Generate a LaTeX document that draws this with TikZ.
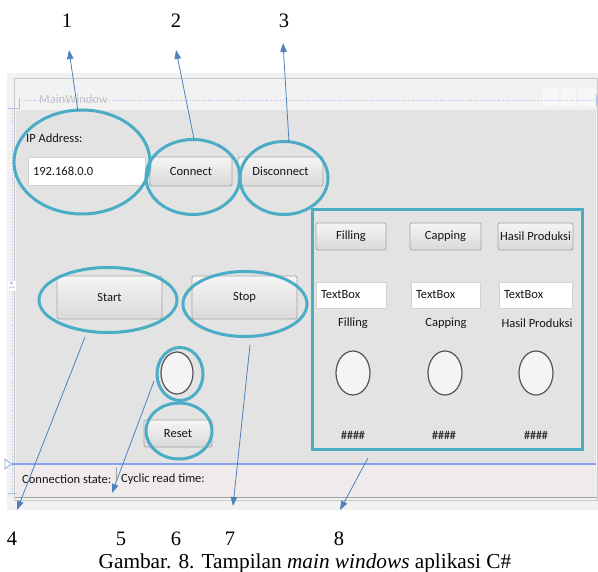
\documentclass[tikz,border=0pt]{standalone}
\usepackage{fontspec}
\setmainfont{Liberation Serif}
\newfontfamily\ui{Carlito}
\usetikzlibrary{shapes.geometric,arrows.meta}
\definecolor{teal1}{HTML}{4BACC6}
\definecolor{arrblue}{HTML}{4F81BD}
\definecolor{outerbg}{HTML}{F1F1F1}
\definecolor{winframe}{HTML}{C8C8C8}
\definecolor{titlebg}{HTML}{F2F2F2}
\definecolor{contentbg}{HTML}{E3E3E3}
\definecolor{statusbg}{HTML}{EFEBEA}
\definecolor{dotblue}{HTML}{A9BEF2}
\definecolor{lineblue}{HTML}{85A4EE}
\definecolor{uitxt}{HTML}{161616}
\definecolor{btnborder}{HTML}{A5A5A5}
\definecolor{btntop}{HTML}{F5F5F5}
\definecolor{btnbot}{HTML}{D9D9D9}
\definecolor{tbborder}{HTML}{D2D2D2}
\definecolor{ledborder}{HTML}{555555}
\definecolor{ledfill}{HTML}{F4F4F4}
\definecolor{titletxt}{HTML}{C2C2C2}
\begin{document}
\begin{tikzpicture}[x=1pt,y=-1pt,
  uitext/.style={font=\ui\fontsize{12.5}{14}\selectfont, text=uitxt, inner sep=0},
  btn/.style={uitext, draw=btnborder, rounded corners=2pt, top color=btntop, bottom color=btnbot, line width=0.8pt},
  tbox/.style={uitext, draw=tbborder, fill=white, line width=0.6pt, align=left, inner xsep=5pt},
  ring/.style={ellipse, draw=teal1, line width=3pt, inner sep=0},
  led/.style={ellipse, draw=ledborder, fill=ledfill, line width=1.2pt, inner sep=0, minimum width=34pt, minimum height=44pt},
  arr/.style={draw=arrblue, line width=0.8pt, -{Triangle[length=9pt,width=6.5pt]}},
  num/.style={font=\fontsize{20.5}{24}\selectfont, inner sep=0},
  hashes/.style={font=\ui\bfseries\fontsize{12}{14}\selectfont, text=uitxt!85, inner sep=0}]
\useasboundingbox (0,0) rectangle (598,572);
\fill[white] (0,0) rectangle (598,572);
% window backgrounds
\fill[outerbg] (7,73) rectangle (598,510);
\draw[winframe, fill=titlebg, line width=0.8pt] (14,78) rectangle (597,500);
\fill[contentbg] (16,110) rectangle (596,464);
\fill[statusbg] (16,464) rectangle (596,497);
\draw[winframe!80!black, line width=0.8pt] (15,497) -- (597,497);
% title bar buttons (faint)
\fill[white, opacity=0.4] (543,88) rectangle (558,107);
\fill[white, opacity=0.4] (561,88) rectangle (576,107);
\fill[white, opacity=0.4] (579,88) rectangle (595,107);
\node[font=\ui\fontsize{12.5}{14}\selectfont, text=titletxt, inner sep=0, anchor=west] (title) at (39,99) {MainWindow};
% designer guide lines
\draw[dotblue, dotted, line width=0.9pt] (19,100) -- (596,100);
\draw[dotblue, line width=0.9pt] (8,108) -- (19,108) -- (19,98);
\draw[dotblue, line width=0.9pt] (596,95) -- (596,106);
\draw[dotblue, dotted, line width=0.9pt] (12,108) -- (12,493);
\draw[dotblue, line width=0.9pt] (8,493) -- (17,493);
\node[fill=white, inner sep=1pt, text=dotblue, rotate=-90, font=\ui\fontsize{8}{9}\selectfont] (mark) at (12,286) {\textbullet 1};
\draw[lineblue, line width=1.2pt] (12,464) -- (596,464);
\draw[lineblue, line width=0.8pt, fill=white] (5,459) -- (11,464) -- (5,469) -- cycle;
% left controls
\node[uitext, anchor=west] (iplabel) at (26,138) {IP Address:};
\node[tbox, text width=107pt, minimum height=28pt] (ipbox) at (86.5,171) {192.168.0.0};
\node[btn, minimum width=82pt, minimum height=29pt] (connect) at (191,171.5) {Connect};
\node[btn, minimum width=85pt, minimum height=29pt] (disconnect) at (280.5,171.5) {Disconnect};
\node[btn, minimum width=105pt, minimum height=43pt] (start) at (109.5,297.5) {Start};
\node[btn, minimum width=105pt, minimum height=43pt] (stop) at (244.5,297.5) {Stop};
\node[led, minimum width=32pt, minimum height=42pt] (led0) at (177,373) {};
\node[btn, minimum width=68pt, minimum height=27pt] (reset) at (178,433.5) {Reset};
% right panel
\node[btn, minimum width=70pt, minimum height=27pt] (bfill) at (351,236.5) {Filling};
\node[btn, minimum width=71pt, minimum height=27pt] (bcap) at (445.5,236.5) {Capping};
\node[btn, minimum width=75pt, minimum height=27pt] (bhasil) at (535.5,236.5) {Hasil Produksi};
\node[tbox, text width=60pt, minimum height=26pt] (tb1) at (351,295) {TextBox};
\node[tbox, text width=59pt, minimum height=26pt] (tb2) at (445.5,295) {TextBox};
\node[tbox, text width=63pt, minimum height=26pt] (tb3) at (535.5,295) {TextBox};
\node[uitext] (lfill) at (353,323) {Filling};
\node[uitext] (lcap) at (446,323) {Capping};
\node[uitext] (lhasil) at (537,323) {Hasil Produksi};
\node[led] (led1) at (353,373) {};
\node[led] (led2) at (445,373) {};
\node[led] (led3) at (536,373) {};
\node[hashes] (h1) at (353,435) {\#\#\#\#};
\node[hashes] (h2) at (444,435) {\#\#\#\#};
\node[hashes] (h3) at (536,435) {\#\#\#\#};
% status bar
\node[uitext, anchor=west] (connstate) at (22,479) {Connection state:};
\draw[btnborder, line width=0.8pt] (116,467) -- (116,482);
\node[uitext, anchor=west] (cyclic) at (121,479) {Cyclic read time:};
% highlight rings
\node[ring, minimum width=136pt, minimum height=104pt] (e1) at (82,162) {};
\node[ring, minimum width=94pt, minimum height=75pt] (e2) at (193,177) {};
\node[ring, minimum width=88pt, minimum height=73pt] (e3) at (284,178) {};
\node[ring, minimum width=138pt, minimum height=65pt] (e4) at (108,300) {};
\node[ring, minimum width=124pt, minimum height=65pt] (e7) at (245,304) {};
\node[ring, minimum width=46pt, minimum height=53pt] (e5) at (180,374) {};
\node[ring, minimum width=66pt, minimum height=56pt] (e6) at (179,431) {};
\draw[teal1, line width=3pt] (312,210) rectangle (582,450);
% number labels
\node[num] (l1) at (67,21) {1};
\node[num] (l2) at (176,21) {2};
\node[num] (l3) at (284,21) {3};
\node[num] (l4) at (12,539) {4};
\node[num] (l5) at (121,539) {5};
\node[num] (l6) at (176,539) {6};
\node[num] (l7) at (230,539) {7};
\node[num] (l8) at (339,539) {8};
% arrows
\coordinate (s1) at (78,112);  \coordinate (t1) at (69,50);
\coordinate (s2) at (194,139); \coordinate (t2) at (176,50);
\coordinate (s3) at (289,142); \coordinate (t3) at (283,43);
\coordinate (s4) at (85,337);  \coordinate (t4) at (17,510);
\coordinate (s5) at (154,381); \coordinate (t5) at (112,493);
\coordinate (s7) at (250,345); \coordinate (t7) at (233,506);
\coordinate (s8) at (368,458); \coordinate (t8) at (340,510);
\draw[arr] (s1) -- (t1);
\draw[arr] (s2) -- (t2);
\draw[arr] (s3) -- (t3);
\draw[arr] (s4) -- (t4);
\draw[arr] (s5) -- (t5);
\draw[arr] (s7) -- (t7);
\draw[arr] (s8) -- (t8);
% caption
\node[font=\fontsize{21.3}{24}\selectfont, inner sep=0] (caption) at (305,563) {Gambar. 8. Tampilan \textit{main windows} aplikasi C\#};
\end{tikzpicture}
\end{document}
